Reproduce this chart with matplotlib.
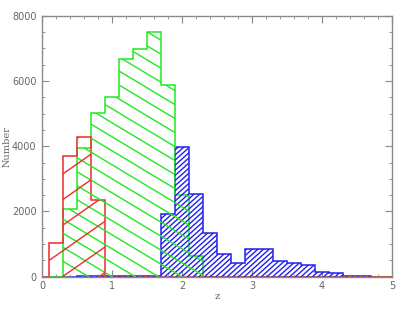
import numpy as np
import matplotlib
matplotlib.use("Agg")
import matplotlib.pyplot as plt
from matplotlib.ticker import MultipleLocator

# bin edges (width 0.2, starting at -0.1)
edges = np.round(np.arange(-0.1, 5.11, 0.2), 2)

# counts
red_counts = [0, 1040, 3700, 4270, 2350] + [0] * 21
green_counts = [0, 0, 2085, 3940, 5030, 5520, 6670, 6975, 7515, 5880,
                2490, 635] + [0] * 14
blue_counts = [0, 0, 5, 10, 15, 15, 15, 20, 30, 1925, 3970, 2535, 1330,
               695, 410, 845, 860, 490, 430, 350, 155, 105, 35, 12, 0, 0]

xlim = (0, 5)
ylim = (0, 8000)

# figure 417x312 px
fig = plt.figure(figsize=(4.17, 3.12), dpi=100)
ax = fig.add_axes([42 / 417, 35.3 / 312, 350 / 417, 261 / 312])
ax.set_xlim(*xlim)
ax.set_ylim(*ylim)

AX_W, AX_H = 350.0, 261.0  # axes size in pixels


def hatch(ax, clip, angle, spacing, color, lw=1.0):
    # draw parallel lines (angle in screen degrees, spacing in px) clipped to patch
    t = np.tan(np.radians(angle))
    step = spacing / np.cos(np.radians(angle))
    lo = min(0, -t * AX_W) - step
    hi = max(AX_H, AX_H - t * AX_W) + step
    xs = np.array([0, AX_W])
    for c in np.arange(lo, hi, step):
        ys = t * xs + c
        ln, = ax.plot(xs / AX_W, ys / AX_H, color=color, lw=lw,
                      transform=ax.transAxes, solid_capstyle="butt")
        ln.set_clip_path(clip)


def hist(ax, counts, color, angle, spacing):
    shape = ax.stairs(counts, edges, fill=True, alpha=0, baseline=0)
    hatch(ax, shape, angle, spacing, color)
    ax.stairs(counts, edges, color=color, lw=1.1, baseline=0)


hist(ax, blue_counts, "#2020f0", 42, 3.8)
hist(ax, green_counts, "#22e822", -31, 12)
hist(ax, red_counts, "#f02a2a", 35, 21)

grey = "#8a8a8a"
for s in ax.spines.values():
    s.set_color(grey)
    s.set_linewidth(1.0)

ax.xaxis.set_major_locator(MultipleLocator(1))
ax.xaxis.set_minor_locator(MultipleLocator(0.2))
ax.yaxis.set_major_locator(MultipleLocator(2000))
ax.yaxis.set_minor_locator(MultipleLocator(500))
ax.tick_params(which="both", direction="in", top=True, right=True,
               color=grey, labelcolor="#666666", labelsize=7)
ax.tick_params(which="major", length=5, width=0.8, pad=3)
ax.tick_params(which="minor", length=2.5, width=0.6)
ax.tick_params(axis="y", which="major", pad=4)

ax.set_xlabel("z", family="DejaVu Serif", fontsize=7.5, color="#666666",
              labelpad=1)
ax.set_ylabel("Number", family="DejaVu Serif", fontsize=7, color="#666666")
ax.yaxis.set_label_coords(-0.088, 0.5)

fig.savefig("out.png", dpi=100)
